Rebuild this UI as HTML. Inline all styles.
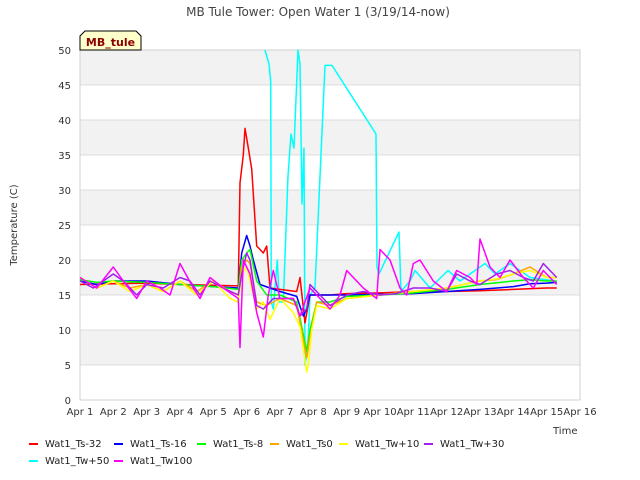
<!DOCTYPE html>
<html><head><meta charset="utf-8"><style>
body{margin:0;background:#fff;font-family:"DejaVu Sans","Liberation Sans",sans-serif}
svg{display:block}
</style></head><body>
<svg id="chart" width="640" height="480" xmlns="http://www.w3.org/2000/svg" font-family="DejaVu Sans, Liberation Sans, sans-serif">
<text x="318" y="16" text-anchor="middle" font-size="12" fill="#444">MB Tule Tower: Open Water 1 (3/19/14-now)</text>
<g id="grid"></g>
<g id="series"></g>
<g id="axes"></g>
<g>
<path d="M80,50 L80,36 L85,31 L136,31 L141,36 L141,50 Z" fill="#ffffcc" stroke="#000" stroke-width="1"/>
<text x="110.5" y="46" text-anchor="middle" font-size="11" font-weight="bold" fill="#8b0000">MB_tule</text>
</g>
<text transform="translate(17,225) rotate(-90)" text-anchor="middle" font-size="10" fill="#333">Temperature (C)</text>
<text x="553" y="434" font-size="10" fill="#333">Time</text>
<g id="legend"></g>
</svg>
<script>
const NS="http://www.w3.org/2000/svg";
const xTicks=["Apr 1","Apr 2","Apr 3","Apr 4","Apr 5","Apr 6","Apr 7","Apr 8","Apr 9","Apr 10","Apr 11","Apr 12","Apr 13","Apr 14","Apr 15","Apr 16"];
const yTicks=[0,5,10,15,20,25,30,35,40,45,50];
const seriesNames=["Wat1_Ts-32","Wat1_Ts-16","Wat1_Ts-8","Wat1_Ts0","Wat1_Tw+10","Wat1_Tw+30","Wat1_Tw+50","Wat1_Tw100"];
const seriesColors=["#ff0000","#0000ff","#00ff00","#ffa500","#ffff00","#a020f0","#00ffff","#ff00ff"];
const daysTs32=[0,1,2,3,4,4.75,4.8,4.9,4.95,5.05,5.15,5.3,5.5,5.6,5.7,6,6.5,6.6,6.75,6.9,7.5,8,9,10,11,12,13,14,14.3];
const valsTs32=[16.5,16.6,16.7,16.5,16.4,16.3,31,35,38.8,36,33,22,21,22,16,15.8,15.5,17.5,11,15,15,15.2,15.3,15.5,15.5,15.6,15.8,16,16];
const daysTs16=[0,0.5,1,2,3,4,4.75,4.85,5,5.1,5.2,5.4,6,6.5,6.7,6.8,6.9,7.5,8,9,10,11,12,13,13.5,14,14.3];
const valsTs16=[17,16.5,17,17,16.5,16.2,16,21,23.5,22,20,16.5,15.5,14.8,12,13,15,15,15,15.1,15.2,15.5,15.8,16.2,16.6,16.7,16.8];
const daysTs8=[0,0.5,1,2,3,4,4.75,4.85,5,5.1,5.3,5.6,6,6.5,6.8,6.9,7.1,7.5,8,9,10,11,12,13,13.5,14,14.3];
const valsTs8=[17.2,16.8,17,16.8,16.5,16.2,15.8,20,21,21.5,17,15,15,14,7,10,14,14,14.8,15,15.3,15.8,16.5,17,17.2,17,17];
const daysTs0=[0,0.5,1,1.5,2,2.5,3,3.5,4,4.5,4.75,4.85,5,5.1,5.3,5.6,6,6.5,6.8,6.9,7.1,7.5,8,9,10,11,12,12.5,13,13.5,14,14.3];
const valsTs0=[17.5,16,17,16,16.5,15.5,17,15.5,17,15.5,15,19,20,19.5,14,13.5,14.5,13.5,6,9,14,13.5,14.5,15,15.5,16,17,17.2,18,19,17.5,17.5];
const daysTw10=[0,0.5,1,1.5,2,2.5,3,3.5,4,4.5,4.75,4.85,5,5.1,5.3,5.5,5.7,6,6.4,6.6,6.8,6.85,6.95,7.1,7.5,8,9,10,11,12,12.5,13,13.5,14,14.3];
const valsTw10=[17.5,16,17,15.5,16.5,15.5,17,15,17,14.5,14,18,19,17,13,14,11.5,14.5,12.5,10.5,4,5,10,13.5,13,14.5,15,15.5,16,17,17.3,18,18.5,17.5,17.5];
const daysTw30=[0,0.4,1,1.3,1.7,2,2.5,3,3.3,3.6,3.9,4.3,4.75,4.85,5,5.1,5.3,5.5,5.8,6,6.4,6.6,6.8,6.9,7.5,8,8.5,9,9.5,10,10.5,11,11.3,11.7,12,12.5,12.9,13.3,13.6,13.9,14.3];
const valsTw30=[17,16,18,17,15,16.5,16,17.5,17,15,17,16,15,18,21,20,13.5,13,14.5,14.5,14.5,12,13,16.5,13.5,15,15.5,15,15.2,16,16,15.5,18,17,16.5,18,18.5,17.5,17,19.5,17.5];
const daysTw50=[5.55,5.67,5.72,5.74,5.8,5.92,5.98,6.1,6.24,6.33,6.42,6.54,6.6,6.66,6.72,6.75,6.84,6.9,7.05,7.35,7.56,8.88,8.91,8.97,9.57,9.63,9.9,10.05,10.5,11.04,11.4,12.15,12.45,12.9,13.5,14.25];
const valsTw50=[50,48,45.5,14,13,20,14,14,32,38,36,50,48,28,36,5,8,15,16,47.8,47.8,38,19,18,24,15.5,17,18.5,16,18.5,17,19.5,18,19.5,17.5,17];
const daysTw100=[0,0.5,1,1.3,1.7,2,2.4,2.7,3,3.4,3.6,3.9,4.3,4.75,4.8,4.9,5.1,5.3,5.5,5.65,5.8,6,6.4,6.6,6.9,7.5,7.8,8,8.5,8.9,9.0,9.3,9.6,9.8,10,10.2,10.6,11,11.3,11.7,11.9,12,12.3,12.6,12.9,13.3,13.6,13.9,14.3];
const valsTw100=[17.5,16,19,17,14.5,17,16,15,19.5,16,14.5,17.5,16,14.5,7.5,20,18,12.5,9,15,18.5,14.5,14.5,12,16,13,15,18.5,16,14.5,21.5,20,16,15,19.5,20,17,15.5,18.5,17.5,16.5,23,19,17.5,20,17.5,16,18.5,16.5];
const seriesDays=[daysTs32,daysTs16,daysTs8,daysTs0,daysTw10,daysTw30,daysTw50,daysTw100];
const seriesVals=[valsTs32,valsTs16,valsTs8,valsTs0,valsTw10,valsTw30,valsTw50,valsTw100];
const drawOrder=[6,0,1,2,3,4,5,7];

const L=80,R=580,T=50,B=400;
const xs=d=>L+(R-L)*d/15;
const ys=v=>B-(B-T)*v/50;
function mk(tag,attrs,parent){const e=document.createElementNS(NS,tag);for(const k in attrs)e.setAttribute(k,attrs[k]);parent.appendChild(e);return e;}
const grid=document.getElementById('grid');
for(let i=0;i<yTicks.length-1;i++){
  if(i%2===1){const r=mk('rect',{x:L,y:ys(yTicks[i+1]),width:R-L,height:ys(yTicks[i])-ys(yTicks[i+1]),fill:'#f2f2f2'},grid);
  
  }
}
yTicks.forEach(v=>{const l=mk('line',{x1:L,x2:R,y1:ys(v),y2:ys(v),stroke:'#dcdcdc','stroke-width':1},grid);

});
mk('rect',{x:L,y:T,width:R-L,height:B-T,fill:'none',stroke:'#d0d0d0'},grid);
const sg=document.getElementById('series');
drawOrder.forEach(i=>{
  const pts=seriesDays[i].map((d,j)=>xs(d).toFixed(1)+','+ys(seriesVals[i][j]).toFixed(1)).join(' ');
  const p=mk('polyline',{points:pts,fill:'none',stroke:seriesColors[i],'stroke-width':1.5,'stroke-linejoin':'round'},sg);
  
  
});
const ax=document.getElementById('axes');
yTicks.forEach(v=>{const t=mk('text',{x:L-9,y:ys(v)+4,'text-anchor':'end','font-size':10,fill:'#333'},ax);t.textContent=v;

});
xTicks.forEach((s,i)=>{const t=mk('text',{x:xs(i),y:B+15,'text-anchor':'middle','font-size':10,fill:'#333'},ax);t.textContent=s;

});
const lg=document.getElementById('legend');
const lgX=[29,114,197,270,339,424];
seriesNames.forEach((n,i)=>{
  const x=lgX[i%6],y=i<6?443:460;
  const g=mk('g',{},lg);
  
  
  mk('line',{x1:x,x2:x+9,y1:y+1,y2:y+1,stroke:seriesColors[i],'stroke-width':2},g);
  const t=mk('text',{x:x+16,y:y+4,'font-size':10,fill:'#222'},g);t.textContent=n;
});
</script>
</body></html>
